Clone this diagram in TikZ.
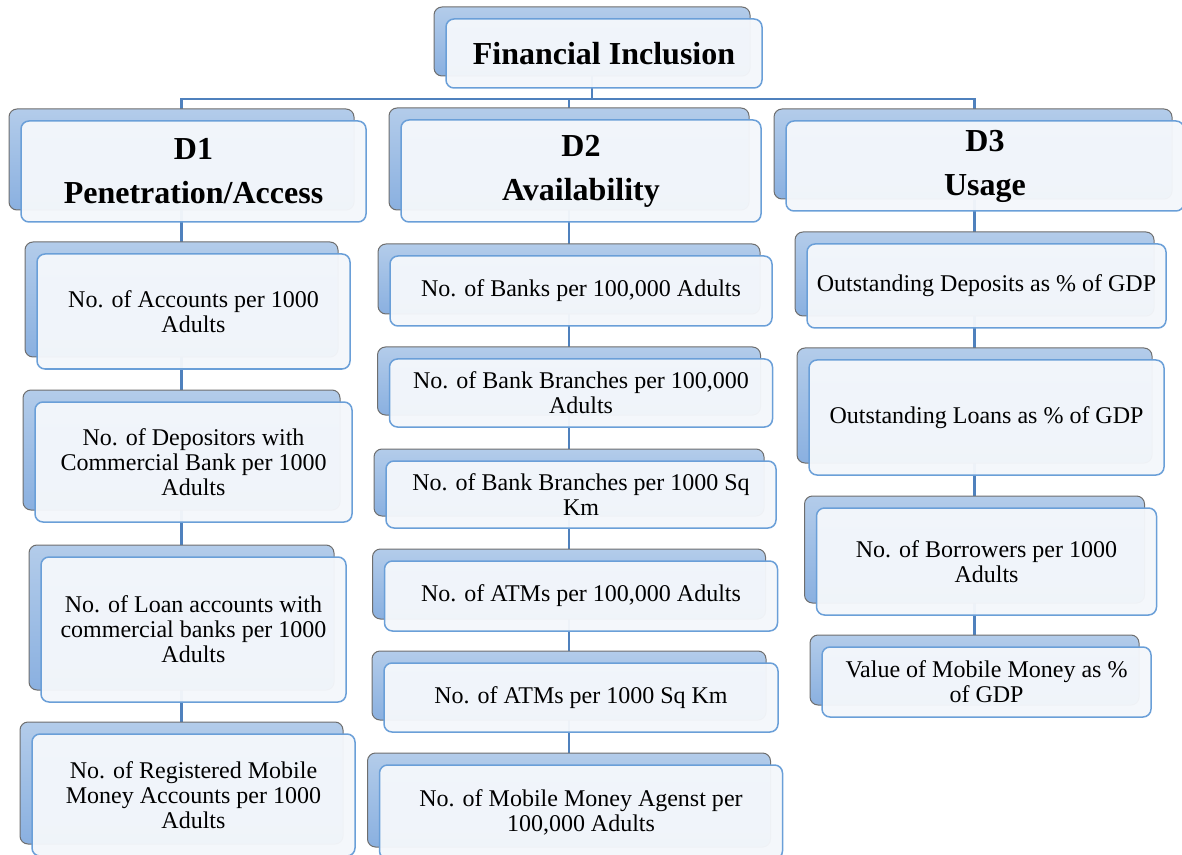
\documentclass[tikz,border=0pt]{standalone}
\usepackage{fontspec}
\setmainfont{Liberation Serif}
\usepackage{xcolor}
\usepackage{tikz}
\usetikzlibrary{positioning, shadows, backgrounds, calc}

\definecolor{backtop}{HTML}{B3CCEA}
\definecolor{backbot}{HTML}{8AB0E0}
\definecolor{backline}{HTML}{6E6E6E}
\definecolor{frontfill}{HTML}{F4F7FB}
\definecolor{frontline}{HTML}{6A9FD8}
\definecolor{linkblue}{HTML}{4F81BD}

\tikzset{
    fibox/.style={draw=frontline, line width=0.75pt, fill=frontfill, fill opacity=0.96, text opacity=1,
        rounded corners=4pt, inner sep=0pt, align=center, font=\fontsize{12}{12.5}\selectfont,
        general shadow={shadow xshift=-6pt, shadow yshift=6pt, fill opacity=1,
            top color=backtop, bottom color=backbot, draw=backline, line width=0.5pt}},
    fihead/.style={fibox, font=\fontsize{16}{22}\selectfont\bfseries},
    link/.style={linkblue, line width=1.1pt}
}

\begin{document}
\begin{tikzpicture}[x=0.5pt, y=-0.5pt]
    \useasboundingbox (0,0) rectangle (1182,855);

    % Root
    \node[fihead, minimum width=158pt, minimum height=34.5pt] (fi) at (604,53.5) {Financial Inclusion};

    % Dimensions
    \node[fihead, minimum width=172.5pt, minimum height=50.5pt] (d1) at (193.5,171.5) {D1\\Penetration/Access};
    \node[fihead, minimum width=180pt, minimum height=51pt] (d2) at (581,171) {D2\\Availability};
    \node[fihead, minimum width=199pt, minimum height=45pt] (d3) at (985,166) {D3\\Usage};

    % D1 indicators
    \node[fibox, minimum width=156.5pt, minimum height=57.5pt] (a1) at (193.5,311.5) {No. of Accounts per 1000\\Adults};
    \node[fibox, minimum width=158.5pt, minimum height=60pt] (a2) at (193.5,462) {No. of Depositors with\\Commercial Bank per 1000\\Adults};
    \node[fibox, minimum width=152.5pt, minimum height=72.5pt] (a3) at (193.5,629.5) {No. of Loan accounts with\\commercial banks per 1000\\Adults};
    \node[fibox, minimum width=161.5pt, minimum height=61pt] (a4) at (193.5,795) {No. of Registered Mobile\\Money Accounts per 1000\\Adults};

    % D2 indicators
    \node[fibox, minimum width=191pt, minimum height=35pt] (b1) at (581,291) {No. of Banks per 100,000 Adults};
    \node[fibox, minimum width=191.5pt, minimum height=34pt] (b2) at (581,393) {No. of Bank Branches per 100,000\\Adults};
    \node[fibox, minimum width=195pt, minimum height=33.5pt] (b3) at (581,494.5) {No. of Bank Branches per 1000 Sq\\Km};
    \node[fibox, minimum width=196.5pt, minimum height=35pt] (b4) at (581,596) {No. of ATMs per 100,000 Adults};
    \node[fibox, minimum width=197pt, minimum height=34.5pt] (b5) at (581,697.5) {No. of ATMs per 1000 Sq Km};
    \node[fibox, minimum width=201.5pt, minimum height=47pt] (b6) at (581,812) {No. of Mobile Money Agenst per\\100,000 Adults};

    % D3 indicators
    \node[fibox, minimum width=179.5pt, minimum height=42pt] (c1) at (986.5,286) {Outstanding Deposits as \% of GDP};
    \node[fibox, minimum width=177.5pt, minimum height=57.5pt] (c2) at (986.5,417.5) {Outstanding Loans as \% of GDP};
    \node[fibox, minimum width=170pt, minimum height=53.5pt] (c3) at (986.5,561.5) {No. of Borrowers per 1000\\Adults};
    \node[fibox, minimum width=164.5pt, minimum height=35pt] (c4) at (986.5,682) {Value of Mobile Money as \%\\of GDP};

    % Connectors
    \begin{scope}[on background layer]
        \coordinate (bus) at (592,99);
        \draw[link] ([xshift=-6pt]fi.center) -- (bus);
        \draw[link] ([xshift=-6pt]d1.center) |- (bus) -| ([xshift=-6pt]c1.center |- d3.center);
        \draw[link] (bus) -| ([xshift=-6pt]d2.center);
        \draw[link] ([xshift=-6pt]d1.center) -- ([xshift=-6pt]a4.center);
        \draw[link] ([xshift=-6pt]d2.center) -- ([xshift=-6pt]b6.center);
        \draw[link] ([xshift=-6pt]c1.center |- d3.center) -- ([xshift=-6pt]c4.center);
    \end{scope}
\end{tikzpicture}
\end{document}
